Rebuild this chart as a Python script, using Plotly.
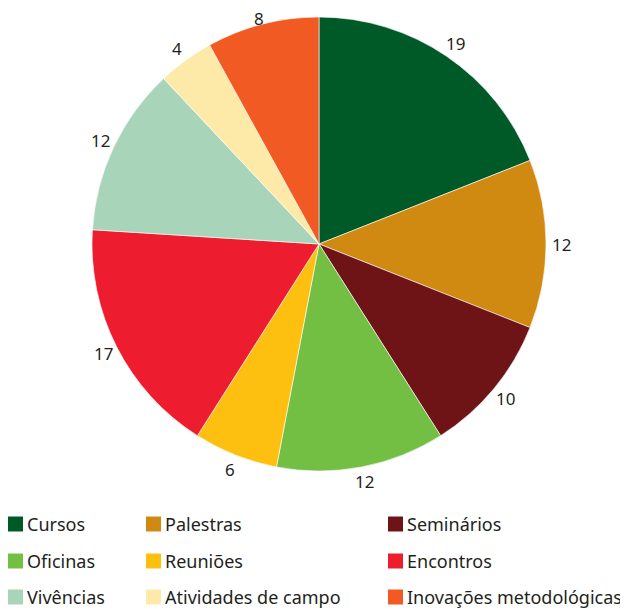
import math
import plotly.graph_objects as go

categories = ["Cursos", "Palestras", "Seminários", "Oficinas", "Reuniões",
              "Encontros", "Vivências", "Atividades de campo", "Inovações metodológicas"]
values = [19, 12, 10, 12, 6, 17, 12, 4, 8]
colors = ["#005a27", "#d08a12", "#6e1416", "#72bf44", "#fdc010",
          "#ed1c2e", "#a8d5b9", "#fdeaa8", "#f15a22"]

OFF = 8  # page body margin
W, H = 628 - OFF, 610 - OFF
cx, cy, r = 319 - OFF, 244 - OFF, 227
label_r = 242

fig = go.Figure(go.Pie(
    labels=categories, values=values, sort=False, direction="clockwise",
    rotation=0, textinfo="none",
    marker=dict(colors=colors, line=dict(color="white", width=0.6)),
    domain=dict(x=[(cx - r) / W, (cx + r) / W], y=[(H - cy - r) / H, (H - cy + r) / H]),
    showlegend=False, hoverinfo="label+value",
))

annotations, shapes = [], []
# value labels outside the slices, at each slice's mid-angle (kept inside the figure)
total = sum(values)
cum = 0
for v in values:
    ang = 2 * math.pi * (cum + v / 2) / total
    cum += v
    px = cx + label_r * math.sin(ang)
    py = max(cy - label_r * math.cos(ang), 11)
    annotations.append(dict(xref="paper", yref="paper", x=px / W, y=(H - py) / H,
                            xanchor="center", yanchor="middle", text=str(v),
                            showarrow=False,
                            font=dict(family="Noto Sans", size=17, color="#231f20")))

# custom legend: 3 columns x 3 rows
col_x = [8 - OFF, 146 - OFF, 388 - OFF]
row_y = [524 - OFF, 561 - OFF, 597 - OFF]
sq = 15
for i, (cat, col) in enumerate(zip(categories, colors)):
    cxp = col_x[i % 3]
    cyp = row_y[i // 3]
    shapes.append(dict(type="rect", xref="paper", yref="paper",
                       x0=cxp / W, x1=(cxp + sq) / W,
                       y0=(H - cyp - sq / 2) / H, y1=(H - cyp + sq / 2) / H,
                       fillcolor=col, line=dict(width=0)))
    annotations.append(dict(xref="paper", yref="paper", x=(cxp + sq + 2) / W,
                            y=(H - cyp) / H, xanchor="left", yanchor="middle",
                            text=cat, showarrow=False,
                            font=dict(family="Noto Sans", size=18, color="#231f20")))

fig.update_layout(width=W, height=H, margin=dict(l=0, r=0, t=0, b=0),
                  paper_bgcolor="white", plot_bgcolor="white",
                  shapes=shapes, annotations=annotations)
fig.write_html("out.html")
